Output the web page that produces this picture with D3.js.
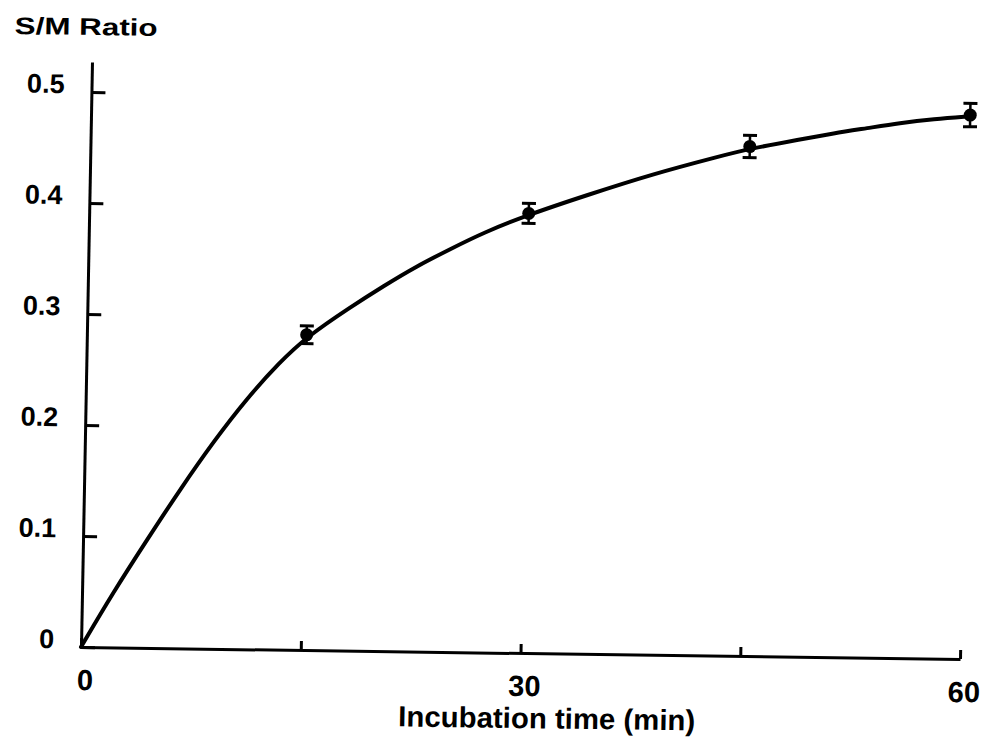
<!DOCTYPE html>
<html>
<head>
<meta charset="utf-8">
<script src="https://cdn.jsdelivr.net/npm/d3@7"></script>
<style>
  html, body { margin: 0; padding: 0; background: #fff; }
  svg { display: block; }
  text { font-family: "Liberation Sans", Arial, sans-serif; font-weight: bold; fill: #000; }
</style>
</head>
<body>
<svg id="chart" width="984" height="742"></svg>
<script>
// ---- data ----
const pointTime  = [15, 30, 45, 60];
const pointRatio = [0.284, 0.396, 0.459, 0.490];
const pointError = [0.008, 0.009, 0.010, 0.0105];

const curveTime  = [0, 2.1, 4.4, 6.6, 8.8, 11.0, 13.2, 15, 17.9, 20.2, 22.4, 24.7, 26.9, 30, 33.9, 38.4, 43.0, 45, 48.4, 50.7, 53.0, 55.2, 57.5, 60];
const curveRatio = [0, 0.049, 0.098, 0.144, 0.187, 0.226, 0.259, 0.282, 0.309, 0.329, 0.347, 0.363, 0.378, 0.395, 0.413, 0.433, 0.450, 0.457, 0.466, 0.472, 0.477, 0.482, 0.486, 0.489];

const xTickValues = [0, 15, 30, 45, 60];
const xTickLabels = ["0", "", "30", "", "60"];
const yTickValues = [0, 0.1, 0.2, 0.3, 0.4, 0.5];
const yTickLabels = ["0", "0.1", "0.2", "0.3", "0.4", "0.5"];

const yTitle = "S/M Ratio";
const xTitle = "Incubation time (min)";

// ---- layout ----
const svg = d3.select("#chart");
// slightly skewed frame, as in the scanned original
const g = svg.append("g").attr("transform", "matrix(1,0.0137,-0.0188,1,81,647)");

const x = d3.scaleLinear().domain([0, 60]).range([0, 879]);
const y = d3.scaleLinear().domain([0, 0.527]).range([0, -585]);

// x axis
const xAxis = d3.axisBottom(x)
  .tickValues(xTickValues)
  .tickSizeInner(-9)
  .tickSizeOuter(0)
  .tickPadding(43)
  .tickFormat((d, i) => xTickLabels[i]);
const gx = g.append("g").call(xAxis).attr("font-family", null).attr("font-size", null);
gx.select(".domain").attr("stroke", "#000").attr("stroke-width", 3);
gx.selectAll(".tick line").attr("stroke", "#000").attr("stroke-width", 3);
gx.selectAll(".tick text")
  .attr("dy", "0")
  .attr("dx", 4)
  .attr("font-size", 29);

// y axis
const yAxis = d3.axisLeft(y)
  .tickValues(yTickValues)
  .tickSizeInner(-14)
  .tickSizeOuter(0)
  .tickPadding(27)
  .tickFormat((d, i) => yTickLabels[i]);
const gy = g.append("g").call(yAxis).attr("font-family", null).attr("font-size", null);
gy.select(".domain").attr("stroke", "#000").attr("stroke-width", 3);
gy.selectAll(".tick line").attr("stroke", "#000").attr("stroke-width", 3);
gy.selectAll(".tick text")
  .attr("dy", "1")
  .attr("font-size", 27);

// fitted curve
const curveData = curveTime.map((t, i) => [t, curveRatio[i]]);
g.append("path")
  .datum(curveData)
  .attr("fill", "none")
  .attr("stroke", "#000")
  .attr("stroke-width", 4)
  .attr("stroke-linecap", "round")
  .attr("d", d3.line().x(d => x(d[0])).y(d => y(d[1])).curve(d3.curveBasis));

// data points with error bars
const pts = pointTime.map((t, i) => ({ t, v: pointRatio[i], e: pointError[i] }));
const pg = g.append("g").selectAll("g").data(pts).join("g");
pg.append("line")
  .attr("x1", d => x(d.t)).attr("x2", d => x(d.t))
  .attr("y1", d => y(d.v - d.e)).attr("y2", d => y(d.v + d.e))
  .attr("stroke", "#000").attr("stroke-width", 2.5);
pg.append("line")
  .attr("x1", d => x(d.t) - 7).attr("x2", d => x(d.t) + 7)
  .attr("y1", d => y(d.v + d.e)).attr("y2", d => y(d.v + d.e))
  .attr("stroke", "#000").attr("stroke-width", 3);
pg.append("line")
  .attr("x1", d => x(d.t) - 7).attr("x2", d => x(d.t) + 7)
  .attr("y1", d => y(d.v - d.e)).attr("y2", d => y(d.v - d.e))
  .attr("stroke", "#000").attr("stroke-width", 3);
pg.append("circle")
  .attr("cx", d => x(d.t)).attr("cy", d => y(d.v))
  .attr("r", 6.5).attr("fill", "#000");

// titles
g.append("text")
  .attr("x", -78).attr("y", -612)
  .attr("font-size", 24)
  .attr("textLength", 143).attr("lengthAdjust", "spacingAndGlyphs")
  .text(yTitle);

g.append("text")
  .attr("x", 467).attr("y", 75)
  .attr("text-anchor", "middle")
  .attr("font-size", 29)
  .attr("textLength", 297).attr("lengthAdjust", "spacingAndGlyphs")
  .text(xTitle);
</script>
</body>
</html>
